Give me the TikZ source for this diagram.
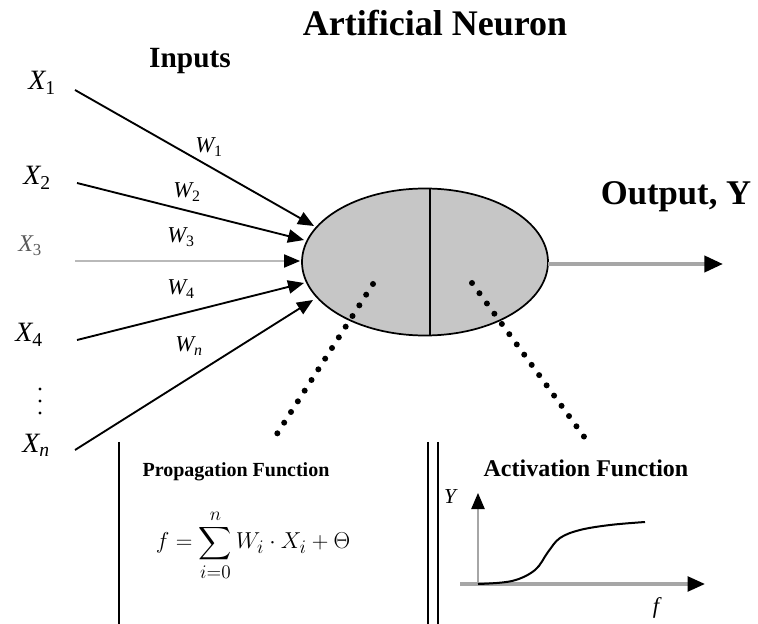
\documentclass[tikz,border=0pt]{standalone}
\usepackage{amsmath}
\usepackage{fontspec}
\setmainfont{Liberation Serif}
\usetikzlibrary{arrows.meta}
\begin{document}
\begin{tikzpicture}[x=0.75pt,y=-0.75pt,
  xlbl/.style={anchor=base west,inner sep=0pt,font=\fontsize{21pt}{23pt}\selectfont\itshape},
  wlbl/.style={anchor=base west,inner sep=0pt,font=\fontsize{17pt}{19pt}\selectfont\itshape},
  inarrow/.style={line width=1.4pt,-{Triangle[length=12pt,width=10pt]}},
  dotline/.style={line width=4.5pt,line cap=round,dash pattern=on 0pt off 9.5pt},
  boxline/.style={line width=1.5pt},
  ttl/.style={anchor=base,inner sep=0pt,font=\bfseries}]
\useasboundingbox (0,0) rectangle (758,624);

% titles
\node[ttl,font=\fontsize{27pt}{30pt}\selectfont\bfseries] (title) at (435,36) {Artificial Neuron};
\node[ttl,font=\fontsize{22pt}{24pt}\selectfont\bfseries] (inputs) at (190,68) {Inputs};
\node[ttl,font=\fontsize{26pt}{28pt}\selectfont\bfseries] (output) at (676,205) {Output, Y};

% neuron
\draw[line width=1.3pt,fill=gray!45] (425,262) ellipse [x radius=123,y radius=73.5];
\coordinate (divtop) at (430,188.5);
\coordinate (divbot) at (430,335.5);
\draw[line width=1.5pt] (divtop) -- (divbot);

% inputs
\node[xlbl] (x1) at (28,90) {X\textsubscript{\upshape 1}};
\node[xlbl] (x2) at (23,185) {X\textsubscript{\upshape 2}};
\node[xlbl,font=\fontsize{18pt}{20pt}\selectfont\itshape,text=gray!70!black] (x3) at (18,252) {X\textsubscript{\upshape 3}};
\node[xlbl] (x4) at (15,342) {X\textsubscript{\upshape 4}};
\node[xlbl] (xn) at (22,452) {X\textsubscript{n}};
\coordinate (dot1) at (40,389);
\coordinate (dot2) at (40,401);
\coordinate (dot3) at (40,413);
\fill (dot1) circle (1.2pt) (dot2) circle (1.2pt) (dot3) circle (1.2pt);

\coordinate (s1) at (75,90);
\coordinate (s2) at (77,183);
\coordinate (s3) at (75,261);
\coordinate (s4) at (77,340);
\coordinate (sn) at (75,450);
\coordinate (t1) at (314,226);
\coordinate (t2) at (304,240);
\coordinate (t3) at (300,261);
\coordinate (t4) at (304,283);
\coordinate (tn) at (313,300);

\draw[inarrow] (s1) -- (t1);
\draw[inarrow] (s2) -- (t2);
\draw[line width=0.8pt,gray!55,-{Triangle[length=12pt,width=10pt,color=black]}] (s3) -- (t3);
\draw[inarrow] (s4) -- (t4);
\draw[inarrow] (sn) -- (tn);

\node[wlbl] (w1) at (195,153) {W\textsubscript{\upshape 1}};
\node[wlbl] (w2) at (173,198) {W\textsubscript{\upshape 2}};
\node[wlbl] (w3) at (167,243) {W\textsubscript{\upshape 3}};
\node[wlbl] (w4) at (167,295) {W\textsubscript{\upshape 4}};
\node[wlbl] (wn) at (175,352) {W\textsubscript{n}};

% output arrow
\coordinate (oS) at (548,264);
\coordinate (oT) at (723,264);
\draw[line width=3pt,gray!70,-{Triangle[length=14pt,width=12pt,color=black]}] (oS) -- (oT);

% dotted pointers
\coordinate (d1a) at (373,284);
\coordinate (d1b) at (275,437);
\coordinate (d2a) at (472,283);
\coordinate (d2b) at (585,438);
\draw[dotline] (d1a) -- (d1b);
\draw[dotline] (d2a) -- (d2b);

% boxes
\coordinate (b1t) at (119,442);
\coordinate (b1b) at (119,624);
\coordinate (b2t) at (428,442);
\coordinate (b2b) at (428,624);
\coordinate (b3t) at (438,442);
\coordinate (b3b) at (438,624);
\draw[boxline] (b1t) -- (b1b);
\draw[boxline] (b2t) -- (b2b);
\draw[boxline] (b3t) -- (b3b);

\node[ttl,font=\fontsize{15pt}{17pt}\selectfont\bfseries] (prop) at (236,476) {Propagation Function};
\node[ttl,font=\fontsize{18pt}{20pt}\selectfont\bfseries] (act) at (586,476) {Activation Function};

\node[inner sep=0pt,font=\fontsize{19pt}{23pt}\selectfont] (formula) at (253,545)
  {$\displaystyle f=\sum_{i=0}^{n} W_i\cdot X_i+\Theta$};

% activation plot
\coordinate (yb) at (478,584);
\coordinate (yt) at (478,493);
\coordinate (xl) at (460,584);
\coordinate (xr) at (705,584);
\draw[line width=0.9pt,gray!70,-{Triangle[length=12pt,width=10pt,color=black]}] (yb) -- (yt);
\draw[line width=2.4pt,gray!70,-{Triangle[length=13pt,width=11pt,color=black]}] (xl) -- (xr);
\draw[line width=1.5pt] plot[smooth,tension=0.6] coordinates
  {(478,584) (512,581) (535,570) (548,552) (560,538) (580,530) (610,525) (645,522)};
\node[inner sep=0pt,font=\fontsize{16pt}{18pt}\selectfont\itshape] (ylbl) at (450,497) {Y};
\node[inner sep=0pt,font=\fontsize{17pt}{19pt}\selectfont\itshape] (flbl) at (656,608) {f};
\end{tikzpicture}
\end{document}
